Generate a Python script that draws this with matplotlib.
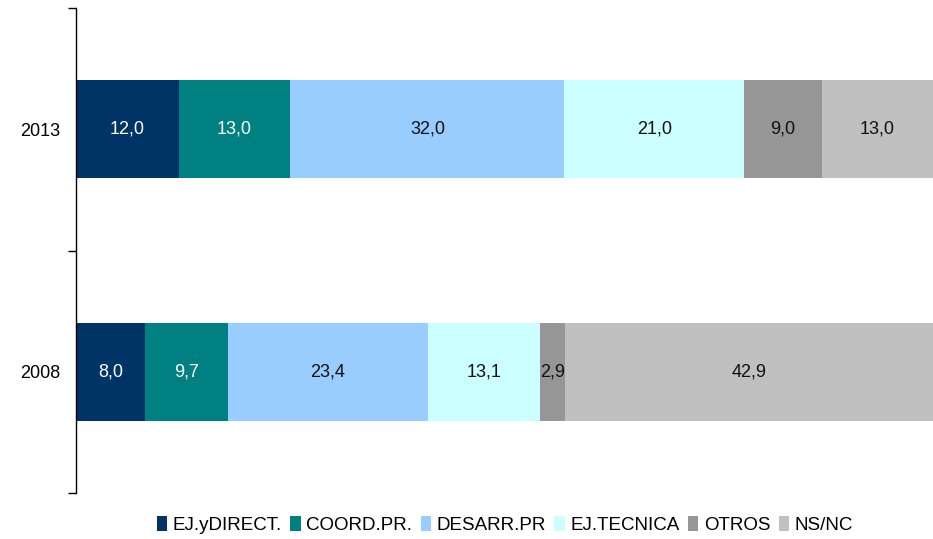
import matplotlib
matplotlib.use("Agg")
import matplotlib.pyplot as plt
from matplotlib.ticker import FixedLocator, NullLocator

years = ["2008", "2013"]
categories = ["EJ.yDIRECT.", "COORD.PR.", "DESARR.PR", "EJ.TECNICA", "OTROS", "NS/NC"]
values_2008 = [8.0, 9.7, 23.4, 13.1, 2.9, 42.9]
values_2013 = [12.0, 13.0, 32.0, 21.0, 9.0, 13.0]

colors = ["#003366", "#008080", "#99CCFF", "#CCFFFF", "#969696", "#C0C0C0"]
text_colors = ["white", "white", "#111111", "#111111", "#111111", "#111111"]

plt.rcParams["font.family"] = ["Liberation Sans", "DejaVu Sans"]

fig = plt.figure(figsize=(9.33, 5.39), dpi=100)
ax = fig.add_axes([76 / 933, 46 / 539, 857 / 933, 485 / 539])

series = list(zip(values_2008, values_2013))
left = [0.0, 0.0]
for i, cat in enumerate(categories):
    vals = series[i]
    bars = ax.barh([0, 1], vals, left=left, height=0.405, color=colors[i],
                   label=cat, linewidth=0)
    for b, v in zip(bars, vals):
        ax.text(b.get_x() + b.get_width() / 2, b.get_y() + b.get_height() / 2,
                f"{v:.1f}".replace(".", ","), ha="center", va="center",
                fontsize=13, color=text_colors[i])
    left = [left[0] + vals[0], left[1] + vals[1]]

ax.set_xlim(0, 100)
ax.set_ylim(-0.5, 1.5)
ax.yaxis.set_major_locator(FixedLocator([-0.5, 0.5, 1.5]))
ax.set_yticklabels([])
ax.yaxis.set_minor_locator(FixedLocator([0, 1]))
ax.set_yticklabels(years, minor=True)
ax.tick_params(axis="y", which="major", length=6, width=1, direction="out")
ax.tick_params(axis="y", which="minor", length=0, labelsize=13, pad=11)
ax.xaxis.set_major_locator(NullLocator())
for s in ["top", "right", "bottom"]:
    ax.spines[s].set_visible(False)
ax.spines["left"].set_linewidth(1)

fig.legend(loc="center", bbox_to_anchor=(505 / 933, 1 - 525 / 539), ncol=6,
           frameon=False, fontsize=13.5,
           handlelength=0.55, handleheight=0.8,
           handletextpad=0.3, columnspacing=0.45)

fig.savefig("out.png", dpi=100)
